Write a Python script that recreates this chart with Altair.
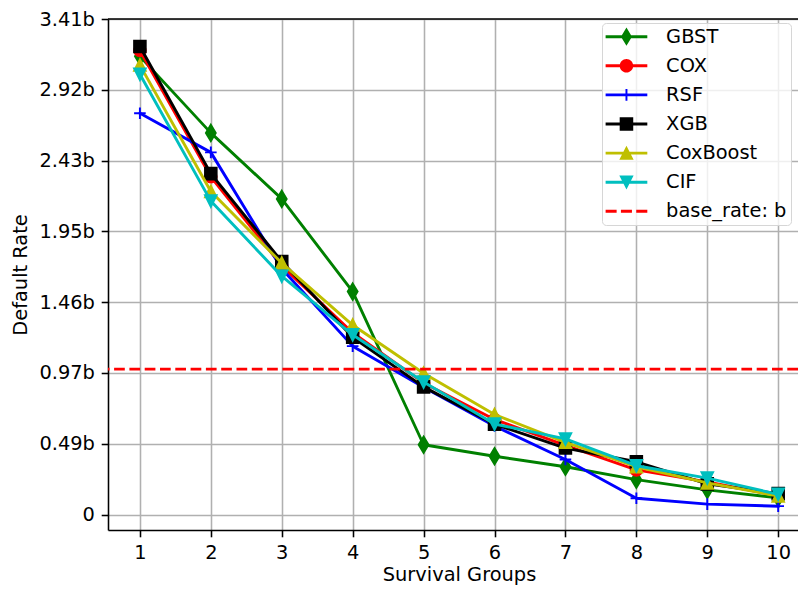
import altair as alt
import pandas as pd

# ---------------- data ----------------
groups = [1, 2, 3, 4, 5, 6, 7, 8, 9, 10]
gbst = [3.150, 2.624, 2.170, 1.533, 0.480, 0.401, 0.329, 0.240, 0.170, 0.115]
cox = [3.190, 2.322, 1.710, 1.250, 0.905, 0.654, 0.475, 0.307, 0.225, 0.130]
rsf = [2.759, 2.490, 1.690, 1.158, 0.875, 0.609, 0.379, 0.112, 0.072, 0.058]
xgb = [3.218, 2.344, 1.740, 1.219, 0.878, 0.621, 0.457, 0.363, 0.211, 0.144]
coxboost = [3.090, 2.221, 1.729, 1.303, 0.972, 0.688, 0.497, 0.329, 0.218, 0.128]
cif = [3.027, 2.155, 1.639, 1.236, 0.912, 0.623, 0.520, 0.336, 0.251, 0.139]
base_rate = [1.0]

model_names = ["GBST", "COX", "RSF", "XGB", "CoxBoost", "CIF"]
base_label = "base_rate: b"

y_tick_values = [0, 0.4867, 0.9734, 1.4601, 1.9468, 2.4335, 2.9202, 3.4069]
y_tick_labels = ["0", "0.49b", "0.97b", "1.46b", "1.95b", "2.43b", "2.92b", "3.41b"]
x_title = "Survival Groups"
y_title = "Default Rate"

# ---------------- styles ----------------
FONT = "DejaVu Sans"
FS = 19.4
colors = ["#008000", "#ff0000", "#0000ff", "#000000", "#bfbf00", "#00bfbf"]
base_color = "#ff0000"
LW = 2.9
MS = 134.6  # marker size (sqrt = 11.6 px)

marker_paths = {
    "GBST": "M0,-1.414L0.849,0L0,1.414L-0.849,0Z",
    "COX": "M1,0A1,1,0,1,1,-1,0A1,1,0,1,1,1,0Z",
    "RSF": "M-1,0H1M0,-1V1",
    "XGB": "M-1,-1H1V1H-1Z",
    "CoxBoost": "M0,-1L1,1L-1,1Z",
    "CIF": "M-1,-1L1,-1L0,1Z",
}

# legend handles: line + marker (units of 5.8 px)
x0 = -1.74
x1 = x0 + 7.19
cx = (x0 + x1) / 2
line = f"M{x0},-0.25H{x1}V0.25H{x0}Z"
e = 0.167
d1, d2 = x0 + 1.9, x0 + 2.64
d3, d4 = x0 + 4.54, x0 + 5.28
legend_paths = [
    line + f"M{cx},{-1.414 - e}L{cx + 0.849 + 0.1},0L{cx},{1.414 + e}L{cx - 0.849 - 0.1},0Z",
    line + f"M{cx + 1 + e},0A{1 + e},{1 + e},0,1,1,{cx - 1 - e},0A{1 + e},{1 + e},0,1,1,{cx + 1 + e},0Z",
    line + f"M{cx - e},-1H{cx + e}V1H{cx - e}Z",
    line + f"M{cx - 1 - e},{-1 - e}H{cx + 1 + e}V{1 + e}H{cx - 1 - e}Z",
    line + f"M{cx},{-1 - 1.6 * e}L{cx + 1 + 1.4 * e},{1 + e}L{cx - 1 - 1.4 * e},{1 + e}Z",
    line + f"M{cx - 1 - 1.4 * e},{-1 - e}L{cx + 1 + 1.4 * e},{-1 - e}L{cx},{1 + 1.6 * e}Z",
    f"M{x0},-0.25H{d1}V0.25H{x0}ZM{d2},-0.25H{d3}V0.25H{d2}ZM{d4},-0.25H{x1}V0.25H{d4}Z",
]

series = [gbst, cox, rsf, xgb, coxboost, cif]
rows = []
for name, vals in zip(model_names, series):
    for g, v in zip(groups, vals):
        rows.append({"model": name, "group": g, "rate": v})
df = pd.DataFrame(rows)

legend_entries = model_names + [base_label]
legend_df = pd.DataFrame({
    "entry": legend_entries,
    "group": [groups[0]] * len(legend_entries),
    "rate": [s[0] for s in series] + base_rate,
})

W, H = 690, 511
X_MAX = 0.55 + W / 70.92

label_expr = "''"
for v, l in reversed(list(zip(y_tick_values, y_tick_labels))):
    label_expr = f"abs(datum.value - {v}) < 0.001 ? '{l}' : ({label_expr})"

common_axis = dict(
    grid=True, gridColor="#b0b0b0", gridWidth=1.55,
    domainColor="black", domainWidth=1.55,
    tickColor="black", tickWidth=1.55, tickSize=6.8,
    labelPadding=6.8, labelFont=FONT, labelFontSize=FS, labelColor="black",
    labelFlush=False, labelOverlap=False, labelBound=False,
    titleFont=FONT, titleFontSize=FS, titleFontWeight="normal", titleColor="black",
    titleBaseline="alphabetic", titleAlign="center",
)

x_enc = alt.X("group:Q",
              scale=alt.Scale(domain=[0.55, X_MAX], nice=False, zero=False),
              axis=alt.Axis(values=groups, title=x_title, format="d",
                            titleX=351, titleY=50.5, **common_axis))
y_enc = alt.Y("rate:Q",
              scale=alt.Scale(domain=[-0.106, 3.4069], nice=False, zero=False),
              axis=alt.Axis(values=y_tick_values, labelExpr=label_expr, title=y_title,
                            titleAngle=-90, titleX=-81.3, titleY=H / 2, **common_axis))

base = alt.Chart(df).encode(x=x_enc, y=y_enc)

layers = []
for name, col in zip(model_names, colors):
    sub = base.transform_filter(alt.datum.model == name)
    layers.append(sub.mark_line(color=col, strokeWidth=LW, strokeJoin="round", strokeCap="square"))
    if name == "RSF":
        layers.append(sub.mark_point(shape=marker_paths[name], size=MS, filled=False,
                                     stroke=col, strokeWidth=1.94, opacity=1))
    else:
        layers.append(sub.mark_point(shape=marker_paths[name], size=MS, filled=True,
                                     fill=col, stroke=col, strokeWidth=1.94, opacity=1))

base_rule = alt.Chart(pd.DataFrame({"rate": base_rate})).mark_rule(
    color=base_color, strokeWidth=LW, strokeDash=[10.7, 4.6]
).encode(y=y_enc)
layers.append(base_rule)

leg = alt.Legend(
    orient="none", legendX=494, legendY=4, title=None,
    labelFont=FONT, labelFontSize=FS, labelColor="black", labelOffset=40.7, labelLimit=0,
    symbolSize=MS, symbolStrokeWidth=0, symbolOpacity=1,
    rowPadding=8.1, padding=4,
    strokeColor="#d6d6d6", fillColor="rgba(255,255,255,0.8)", cornerRadius=4,
)
legend_layer = alt.Chart(legend_df).mark_point(filled=True, opacity=0, size=MS).encode(
    x=x_enc, y=y_enc,
    color=alt.Color("entry:N", scale=alt.Scale(domain=legend_entries, range=colors + [base_color]), legend=leg),
    shape=alt.Shape("entry:N", scale=alt.Scale(domain=legend_entries, range=legend_paths), legend=leg),
)
layers.append(legend_layer)

top_spine = alt.Chart(pd.DataFrame({"a": [0]})).mark_rule(color="black", strokeWidth=1.55).encode(
    x=alt.value(0), x2=alt.value(W), y=alt.value(0)
)
layers.append(top_spine)

chart = alt.layer(*layers).properties(
    width=W, height=H,
    autosize=alt.AutoSizeParams(type="none"),
    padding={"left": 100, "top": 11, "right": 0, "bottom": 55},
).configure_view(stroke=None)

chart.save("out.html", embed_options={"renderer": "svg", "actions": False})
